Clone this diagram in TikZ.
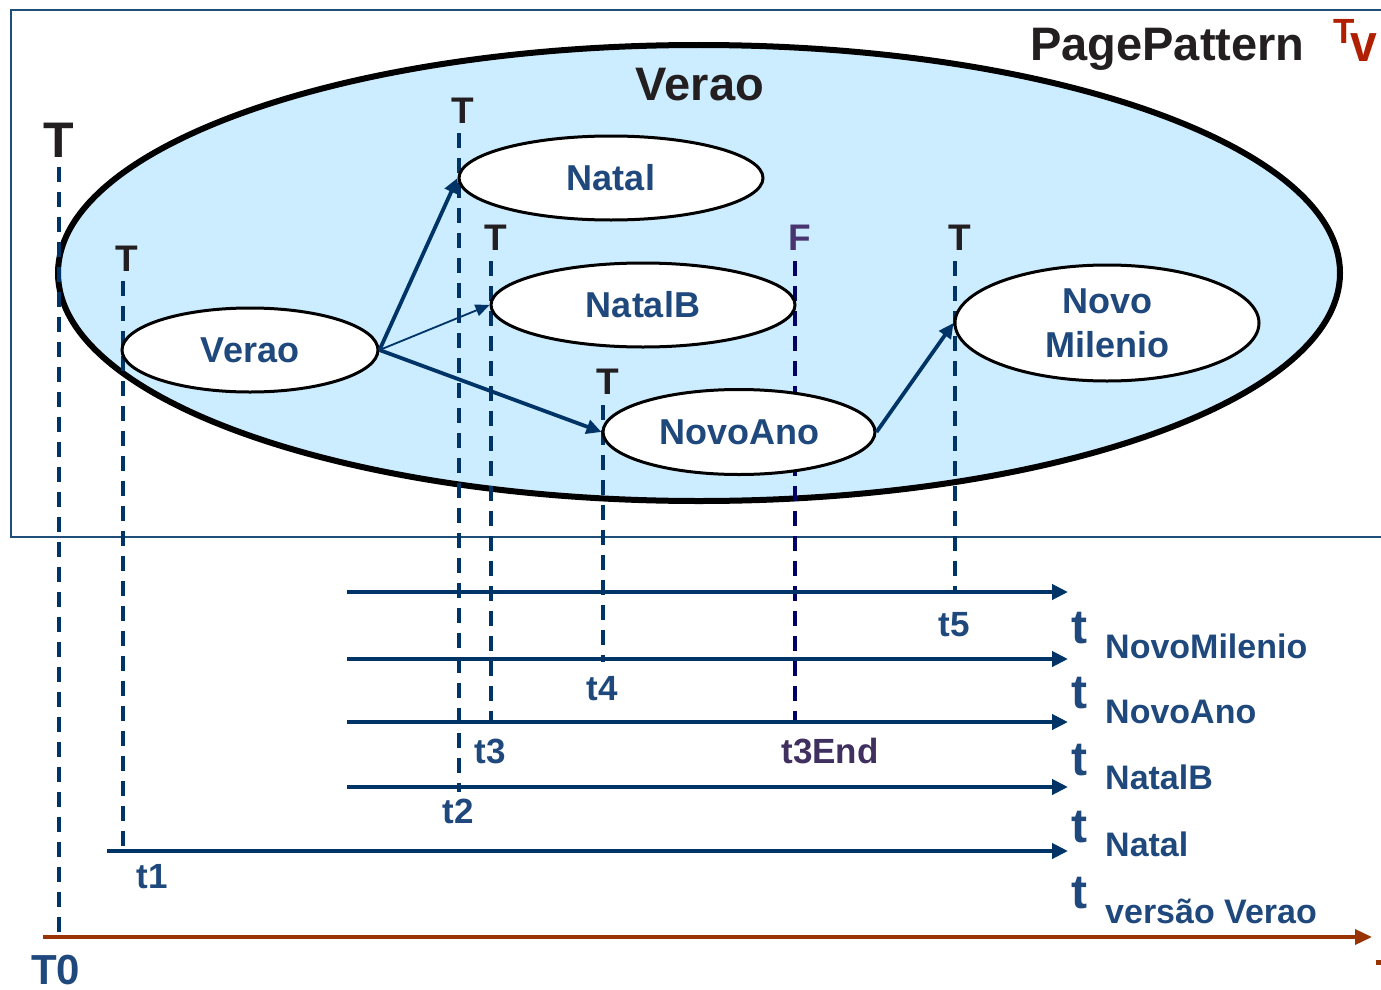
\documentclass[tikz,border=0pt]{standalone}
\usepackage{fontspec}
\setmainfont{Liberation Sans}
\usetikzlibrary{shapes.geometric,arrows.meta}
\definecolor{txtblue}{RGB}{31,73,125}
\definecolor{navy}{RGB}{0,51,102}
\definecolor{fnavy}{RGB}{0,0,102}
\definecolor{fpurple}{RGB}{72,52,110}
\definecolor{tpurple}{RGB}{64,48,96}
\definecolor{darkg}{RGB}{35,31,32}
\definecolor{lblue}{RGB}{204,236,255}
\definecolor{framec}{RGB}{31,78,121}
\definecolor{tvred}{RGB}{176,32,0}
\definecolor{rust}{RGB}{153,51,0}
\begin{document}
\begin{tikzpicture}[x=1pt,y=-1pt,
  ev/.style={ellipse,draw=black,line width=3pt,fill=white,inner sep=0pt,
     text=txtblue,font=\fontsize{36}{44}\selectfont\bfseries,align=center},
  tmark/.style={anchor=base,text=darkg,font=\fontsize{37}{40}\selectfont\bfseries,inner sep=0pt},
  tlab/.style={anchor=base,text=txtblue,font=\fontsize{35}{40}\selectfont\bfseries,inner sep=0pt},
  bigt/.style={anchor=base west,text=txtblue,font=\fontsize{48}{50}\selectfont\bfseries,inner sep=0pt},
  subl/.style={anchor=base west,text=txtblue,font=\fontsize{34}{40}\selectfont\bfseries,inner sep=0pt},
  dl/.style={draw=navy,line width=3.5pt,dash pattern=on 15pt off 10pt},
  harr/.style={draw=navy,line width=4pt,-{Triangle[length=16pt,width=15pt]}},
  earr/.style={draw=navy,line width=3.8pt,-{Triangle[length=15pt,width=14pt]}}
]
\useasboundingbox (0,0) rectangle (1381,990);
% frame
\draw[framec,line width=2.2pt] (1381,10) -- (11,10) -- (11,537) -- (1381,537);
% big ellipse
\node[ellipse,draw=black,line width=6pt,fill=lblue,minimum width=1282pt,minimum height=456pt,inner sep=0pt] (pp) at (699,273) {};
\node[anchor=base,text=darkg,font=\fontsize{47}{50}\selectfont\bfseries,inner sep=0pt] (vtitle) at (700,100) {Verao};
\node[anchor=base west,text=darkg,font=\fontsize{47}{50}\selectfont\bfseries,inner sep=0pt] (ptitle) at (1030,60) {PagePattern};
\node[anchor=base west,text=tvred,font=\fontsize{35}{40}\selectfont\bfseries,inner sep=0pt] (tvT) at (1333,44) {T};
\node[anchor=base west,text=tvred,font=\fontsize{48}{50}\selectfont\bfseries,inner sep=0pt,yscale=1.1] (tvV) at (1350,62) {v};
% T / F markers
\node[tmark,font=\fontsize{50}{52}\selectfont\bfseries] (T0m) at (59,157) {T};
\node[tmark] (T1m) at (127,271) {T};
\node[tmark] (T2m) at (463,123) {T};
\node[tmark] (T3m) at (496,250) {T};
\node[tmark] (T4m) at (608,394) {T};
\node[tmark,text=fpurple] (Fm) at (800,250) {F};
\node[tmark] (T5m) at (960,250) {T};
% dashed line ends
\coordinate (a0) at (59,167);  \coordinate (b0) at (59,935);
\coordinate (a1) at (123,281); \coordinate (b1) at (123,852);
\coordinate (a2) at (459,133); \coordinate (b2) at (459,792);
\coordinate (a3) at (491,261); \coordinate (b3) at (491,724);
\coordinate (a4) at (603,405); \coordinate (b4) at (603,662);
\coordinate (aF) at (795,261); \coordinate (bF) at (795,724);
\coordinate (a5) at (955,261); \coordinate (b5) at (955,590);
\draw[dl] (a0) -- (b0);
\draw[dl] (a1) -- (b1);
\draw[dl] (a2) -- (b2);
\draw[dl] (a3) -- (b3);
\draw[dl] (a4) -- (b4);
\draw[dl,draw=fnavy] (aF) -- (bF);
\draw[dl] (a5) -- (b5);
% horizontal time lines
\coordinate (h1s) at (347,592); \coordinate (h1e) at (1068,592);
\coordinate (h2s) at (347,659); \coordinate (h2e) at (1068,659);
\coordinate (h3s) at (347,722); \coordinate (h3e) at (1068,722);
\coordinate (h4s) at (347,787); \coordinate (h4e) at (1068,787);
\coordinate (h5s) at (107,851); \coordinate (h5e) at (1068,851);
\coordinate (h6s) at (43,937);  \coordinate (h6e) at (1372,937);
\draw[harr] (h1s) -- (h1e);
\draw[harr] (h2s) -- (h2e);
\draw[harr] (h3s) -- (h3e);
\draw[harr] (h4s) -- (h4e);
\draw[harr] (h5s) -- (h5e);
\draw[draw=rust,line width=3.5pt,-{Triangle[length=17pt,width=15pt]}] (h6s) -- (h6e);
\fill[rust] (1376,960) rectangle (1381,965);
% time labels
\node[tlab] (lt5) at (954,636) {t5};
\node[tlab] (lt4) at (602,700) {t4};
\node[tlab] (lt3) at (490,763) {t3};
\node[tlab,text=tpurple] (lt3e) at (830,763) {t3End};
\node[tlab] (lt2) at (458,823) {t2};
\node[tlab] (lt1) at (152,888) {t1};
\node[tlab,anchor=base west,font=\fontsize{42}{44}\selectfont\bfseries] (lT0) at (31,984) {T0};
% right labels
\node[bigt] (rt1) at (1071,643) {t};
\node[subl] (rs1) at (1105,658) {NovoMilenio};
\node[bigt] (rt2) at (1071,708) {t};
\node[subl] (rs2) at (1105,723) {NovoAno};
\node[bigt] (rt3) at (1071,775) {t};
\node[subl] (rs3) at (1105,789) {NatalB};
\node[bigt] (rt4) at (1071,842) {t};
\node[subl] (rs4) at (1105,856) {Natal};
\node[bigt] (rt5) at (1071,908) {t};
\node[subl] (rs5) at (1105,923) {versão Verao};
% small ellipses
\node[ev,minimum width=304pt,minimum height=84pt] (natal) at (611,178) {Natal};
\node[ev,minimum width=304pt,minimum height=84pt] (natalb) at (643,305) {NatalB};
\node[ev,minimum width=256pt,minimum height=84pt] (verao) at (250,350) {Verao};
\node[ev,minimum width=272pt,minimum height=85pt] (novoano) at (739,432) {NovoAno};
\node[ev,minimum width=304pt,minimum height=116pt] (novomil) at (1107,323) {Novo\\Milenio};
% arrows
\draw[earr] (verao.east) -- (natal.west);
\draw[draw=navy,line width=1.8pt,-{Triangle[length=14pt,width=12pt]}] (verao.east) -- (natalb.west);
\draw[earr] (verao.east) -- (novoano.west);
\draw[earr] (novoano.east) -- (novomil.west);
\end{tikzpicture}
\end{document}
